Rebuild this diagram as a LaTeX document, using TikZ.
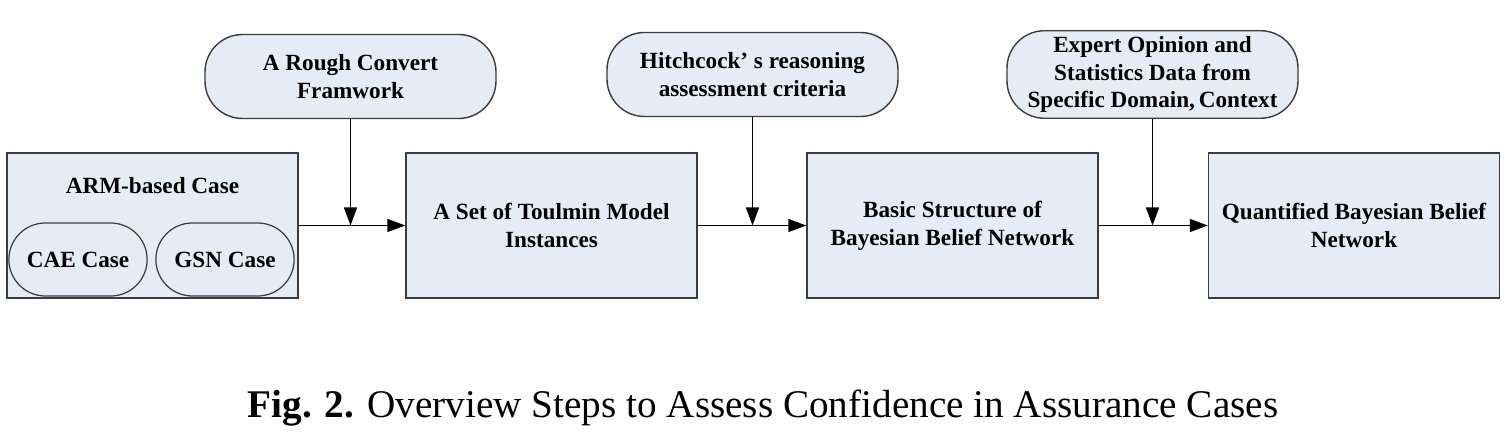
\documentclass[tikz,border=0pt]{standalone}
\usepackage{fontspec}
\setmainfont{Liberation Serif}
\usepackage{tikz}
\usetikzlibrary{arrows.meta,shapes.misc,calc}

\definecolor{boxblue}{RGB}{230,236,246}
\definecolor{edgegray}{RGB}{60,60,60}

\tikzset{
	stepbox/.style={draw=edgegray, line width=0.8pt, fill=boxblue, minimum width=5.82cm, minimum height=2.9cm, align=center, font=\fontsize{13.2}{15.8}\selectfont\bfseries},
	inputbox/.style={draw=edgegray, line width=0.8pt, fill=boxblue, rounded corners=0.75cm, minimum width=5.82cm, minimum height=1.68cm, align=center, font=\fontsize{13.2}{15.6}\selectfont\bfseries},
	casebox/.style={rounded rectangle, draw=edgegray, line width=0.7pt, fill=boxblue, minimum width=3.0cm, minimum height=1.46cm, font=\fontsize{13.2}{15.8}\selectfont\bfseries},
	flow/.style={-{Triangle[length=0.36cm,width=0.26cm]}, line width=0.8pt, black}
}

\begin{document}
\begin{tikzpicture}

	\useasboundingbox (0,0) rectangle (30.16,8.92);

	\node (ARM)[stepbox] at (3.05,4.41) {};
	\node (ARMlab)[font=\fontsize{13.2}{15.8}\selectfont\bfseries] at (3.05,5.2) {ARM-based Case};
	\node (CAE)[casebox] at (1.56,3.73) {CAE Case};
	\node (GSN)[casebox] at (4.5,3.73) {GSN Case};

	\node (TMI)[stepbox] at (11.03,4.41) {A Set of Toulmin Model\\Instances};
	\node (BBN)[stepbox] at (19.05,4.41) {Basic Structure of\\Bayesian Belief Network};
	\node (QBBN)[stepbox] at (27.08,4.41) {Quantified Bayesian Belief\\Network};

	\node (RCF)[inputbox] at (7.01,7.39) {A Rough Convert\\Framwork};
	\node (HRA)[inputbox] at (15.05,7.43) {Hitchcock’\ s reasoning\\assessment criteria};
	\node (EOS)[inputbox] at (23.05,7.43) {Expert Opinion and\\Statistics Data from\\Specific Domain,\,Context};

	\coordinate (J1) at (RCF.south |- ARM.east);
	\coordinate (J2) at (HRA.south |- TMI.east);
	\coordinate (J3) at (EOS.south |- BBN.east);

	\draw [flow] (ARM.east) to (TMI.west);
	\draw [flow] (TMI.east) to (BBN.west);
	\draw [flow] (BBN.east) to (QBBN.west);

	\draw [flow] (RCF.south) to (J1);
	\draw [flow] (HRA.south) to (J2);
	\draw [flow] (EOS.south) to (J3);

	\node (cap) at (15.26,0.75) {\fontsize{22.3}{26}\selectfont\textbf{Fig. 2.} Overview Steps to Assess Confidence in Assurance Cases};

\end{tikzpicture}
\end{document}
